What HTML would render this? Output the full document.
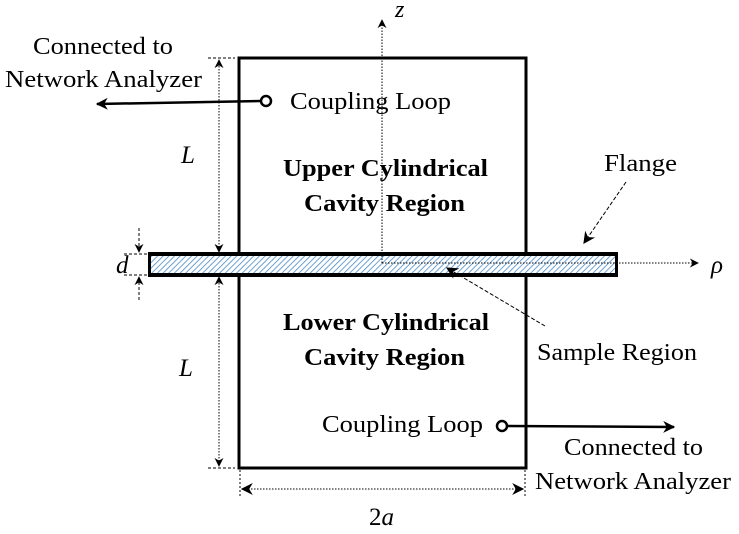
<!DOCTYPE html>
<html><head><meta charset="utf-8"><style>
html,body{margin:0;padding:0;background:#fff;width:739px;height:534px;overflow:hidden}
text{font-family:"Liberation Serif",serif;fill:#000}
</style></head><body>
<svg width="739" height="534" viewBox="0 0 739 534">
<defs>
<pattern id="hatch" width="4" height="4" patternUnits="userSpaceOnUse" patternTransform="rotate(45)">
<rect width="4" height="4" fill="#fff"/><line x1="0" y1="0" x2="0" y2="4" stroke="#4a8ac8" stroke-width="1.6"/></pattern>
<marker id="ah" viewBox="0 0 10 10" refX="9" refY="5" markerWidth="9" markerHeight="9" orient="auto-start-reverse" markerUnits="userSpaceOnUse">
<path d="M0,0 L10,5 L0,10 L3,5 z" fill="#000"/></marker>
<marker id="ahb" viewBox="0 0 10 10" refX="9" refY="5" markerWidth="14" markerHeight="12" orient="auto-start-reverse" markerUnits="userSpaceOnUse">
<path d="M0,0 L10,5 L0,10 L3,5 z" fill="#000"/></marker>
</defs>
<g>
<path d="M239,252 L239,58 L526,58 L526,252" fill="none" stroke="#000" stroke-width="3"/></g>
<g>
<path d="M239,276 L239,468 L526,468 L526,276" fill="none" stroke="#000" stroke-width="3"/></g>
<rect x="148" y="252" width="470" height="25" fill="#000"/>
<rect x="151" y="256" width="464" height="17" fill="url(#hatch)"/>
<line x1="239" y1="255" x2="526" y2="255" stroke="#000" stroke-width="2"/>
<line x1="239" y1="274" x2="526" y2="274" stroke="#000" stroke-width="2"/>
<line x1="382" y1="263" x2="382" y2="20" stroke="#000" stroke-width="1" stroke-dasharray="1.5,1.5" marker-end="url(#ah)"/>
<line x1="382" y1="263" x2="698" y2="263" stroke="#000" stroke-width="1" stroke-dasharray="1.5,1.5" marker-end="url(#ah)"/>
<text x="395" y="17" font-size="24" font-style="italic">z</text>
<text x="711" y="273" font-size="25" font-style="italic">ρ</text>
<line x1="208" y1="58" x2="235" y2="58" stroke="#000" stroke-dasharray="3,2"/>
<line x1="219" y1="60" x2="219" y2="252" stroke="#000" stroke-dasharray="1.5,1.5" marker-start="url(#ah)" marker-end="url(#ah)"/>
<line x1="219" y1="277" x2="219" y2="466" stroke="#000" stroke-dasharray="1.5,1.5" marker-start="url(#ah)" marker-end="url(#ah)"/>
<line x1="208" y1="468" x2="235" y2="468" stroke="#000" stroke-dasharray="3,2"/>
<text x="181" y="163" font-size="25" font-style="italic">L</text>
<text x="179" y="376" font-size="25" font-style="italic">L</text>
<line x1="124" y1="254" x2="147" y2="254" stroke="#000" stroke-dasharray="3,2"/>
<line x1="124" y1="275" x2="147" y2="275" stroke="#000" stroke-dasharray="3,2"/>
<line x1="139" y1="228" x2="139" y2="252" stroke="#000" stroke-dasharray="3,2" marker-end="url(#ah)"/>
<line x1="139" y1="300" x2="139" y2="277" stroke="#000" stroke-dasharray="3,2" marker-end="url(#ah)"/>
<text x="116" y="273" font-size="25" font-style="italic">d</text>
<line x1="240" y1="470" x2="240" y2="498" stroke="#000" stroke-dasharray="2,2"/>
<line x1="525" y1="470" x2="525" y2="498" stroke="#000" stroke-dasharray="2,2"/>
<line x1="242" y1="489" x2="523" y2="489" stroke="#000" stroke-dasharray="1.5,1.5" marker-start="url(#ahb)" marker-end="url(#ahb)"/>
<text x="369" y="525" font-size="25">2<tspan font-style="italic">a</tspan></text>
<line x1="261" y1="101" x2="97" y2="104" stroke="#000" stroke-width="2.5" marker-end="url(#ahb)"/>
<circle cx="266" cy="101" r="5" fill="#fff" stroke="#000" stroke-width="2.5"/>
<text x="290" y="109" font-size="24" textLength="161" lengthAdjust="spacingAndGlyphs">Coupling Loop</text>
<line x1="507" y1="426" x2="674" y2="427" stroke="#000" stroke-width="2.5" marker-end="url(#ahb)"/>
<circle cx="502" cy="426" r="5" fill="#fff" stroke="#000" stroke-width="2.5"/>
<text x="322" y="432" font-size="24" textLength="161" lengthAdjust="spacingAndGlyphs">Coupling Loop</text>
<g>
<text x="33" y="54" font-size="24" textLength="140" lengthAdjust="spacingAndGlyphs">Connected to</text>
<text x="5" y="87" font-size="24" textLength="197" lengthAdjust="spacingAndGlyphs">Network Analyzer</text></g>
<g>
<text x="564" y="455" font-size="24" textLength="139" lengthAdjust="spacingAndGlyphs">Connected to</text>
<text x="535" y="489" font-size="24" textLength="196" lengthAdjust="spacingAndGlyphs">Network Analyzer</text></g>
<g font-weight="bold">
<text x="283" y="176" font-size="24" textLength="205" lengthAdjust="spacingAndGlyphs">Upper Cylindrical</text>
<text x="304" y="211" font-size="24" textLength="161" lengthAdjust="spacingAndGlyphs">Cavity Region</text></g>
<g font-weight="bold">
<text x="283" y="330" font-size="24" textLength="206" lengthAdjust="spacingAndGlyphs">Lower Cylindrical</text>
<text x="304" y="365" font-size="24" textLength="161" lengthAdjust="spacingAndGlyphs">Cavity Region</text></g>
<text x="604" y="171" font-size="24" textLength="73" lengthAdjust="spacingAndGlyphs">Flange</text>
<line x1="626" y1="182" x2="584" y2="243" stroke="#000" stroke-dasharray="4,2" marker-end="url(#ahb)"/>
<text x="537" y="360" font-size="24" textLength="160" lengthAdjust="spacingAndGlyphs">Sample Region</text>
<line x1="545" y1="326" x2="447" y2="268" stroke="#000" stroke-dasharray="4,2" marker-end="url(#ahb)"/>
</svg>
</body></html>
